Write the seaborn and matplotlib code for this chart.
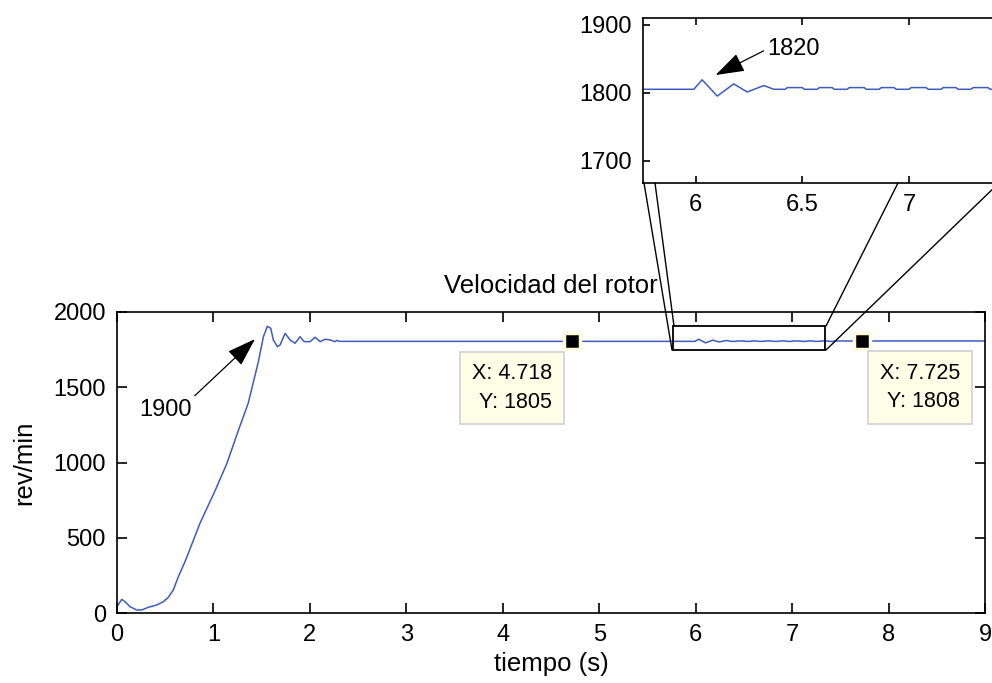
import matplotlib
matplotlib.use("Agg")
import matplotlib.pyplot as plt
from matplotlib.patches import Rectangle
from matplotlib.lines import Line2D
import seaborn as sns
import pandas as pd

# ---------------- data ----------------
tiempo = [0.0, 0.049, 0.083, 0.135, 0.204, 0.256, 0.325, 0.411, 0.48, 0.532, 0.584, 0.636,
          0.705, 0.74, 0.86, 1.02, 1.14, 1.26, 1.36, 1.466, 1.518, 1.559, 1.594, 1.621,
          1.663, 1.691, 1.743, 1.795, 1.846, 1.898, 1.94, 2.002, 2.054, 2.106, 2.158,
          2.21, 2.26, 2.28, 2.3, 5.992, 6.031, 6.102, 6.179, 6.242, 6.32, 6.367,
          6.42, 6.43, 6.50, 6.51, 6.57, 6.58, 6.64, 6.65, 6.71, 6.72, 6.79, 6.80,
          6.86, 6.87, 6.93, 6.94, 7.00, 7.01, 7.08, 7.09, 7.15, 7.16, 7.22, 7.23,
          7.29, 7.30, 7.37, 7.38, 7.43, 7.44, 9.0]
rpm = [42, 91, 75, 42, 20, 20, 38, 53, 75, 104, 153, 241,
       341, 397, 596, 817, 995, 1216, 1393, 1670, 1836, 1905, 1892, 1814,
       1770, 1781, 1858, 1814, 1792, 1836, 1803, 1803, 1832, 1803, 1819,
       1814, 1803, 1812, 1805, 1805, 1819, 1795, 1813, 1801, 1810.5, 1805,
       1805, 1807.5, 1807.5, 1805, 1805, 1807.5, 1807.5, 1805, 1805, 1807.5, 1807.5, 1805,
       1805, 1807.5, 1807.5, 1805, 1805, 1807.5, 1807.5, 1805, 1805, 1807.5, 1807.5, 1805,
       1805, 1807.5, 1807.5, 1805, 1805, 1807.5, 1807.5]

x_ticks = [0, 1, 2, 3, 4, 5, 6, 7, 8, 9]
y_ticks = [0, 500, 1000, 1500, 2000]
inset_x_ticks = [6, 6.5, 7]
inset_y_ticks = [1700, 1800, 1900]

tip_x = [4.718, 7.725]
tip_y = [1805, 1808]
tip_labels = ["X: 4.718\nY: 1805", "X: 7.725\nY: 1808"]

peak_label = "1900"
inset_peak_label = "1820"

title = "Velocidad del rotor"
xlabel = "tiempo (s)"
ylabel = "rev/min"

# ---------------- style ----------------
sns.set_style("ticks")
plt.rcParams["font.family"] = ["Liberation Sans", "DejaVu Sans"]
plt.rcParams["text.color"] = "black"
plt.rcParams["axes.labelcolor"] = "black"
plt.rcParams["xtick.color"] = "black"
plt.rcParams["ytick.color"] = "black"

W, H = 992, 683
fig = plt.figure(figsize=(W / 100, H / 100), dpi=100)

def fx(px):
    return px / W

def fy(py):
    return 1 - py / H

df = pd.DataFrame({"t": tiempo, "v": rpm})
line_color = "#3D5CC0"

# ---------------- main axes ----------------
ax = fig.add_axes([fx(117), fy(613), fx(985) - fx(117), fy(312) - fy(613)])
sns.lineplot(data=df, x="t", y="v", ax=ax, color=line_color, lw=1.1,
             estimator=None, sort=False)
ax.set_xlim(0, 9)
ax.set_ylim(0, 2000)
ax.set_xticks(x_ticks)
ax.set_yticks(y_ticks)
ax.tick_params(direction="in", length=7, width=1.2, labelsize=17, pad=8,
               top=True, right=True, colors="black")
for s in ax.spines.values():
    s.set_linewidth(1.2)
    s.set_color("black")
ax.set_title(title, fontsize=18.5, pad=14, color="black")
ax.set_xlabel(xlabel, fontsize=18.5, labelpad=4, color="black")
ax.set_ylabel(ylabel, fontsize=18.5, labelpad=12, color="black")

# zoom rectangle
ax.add_patch(Rectangle((5.77, 1748), 1.57, 159, fill=False, ec="black", lw=1.3, zorder=5))

# datatips
ax.plot(tip_x, tip_y, ls="none", marker="s", ms=12, mfc="black", mec="#FFFBDC", mew=2.5, zorder=6)
offsets = [(-20, -22, "right"), (18, -22, "left")]
for xv, yv, lab, (dx, dy, ha) in zip(tip_x, tip_y, tip_labels, offsets):
    ax.annotate(lab, xy=(xv, yv), xytext=(dx, dy), textcoords="offset pixels",
                ha=ha, va="top", fontsize=15.5, multialignment="right", linespacing=1.45,
                color="black",
                bbox=dict(boxstyle="square,pad=0.55", fc="#FFFFE8", ec="#CFCFCF", lw=1.2),
                zorder=7)

# peak annotation
ax.annotate(peak_label, xy=(1.431, 1820), xytext=(0.50, 1350), fontsize=17,
            ha="center", va="center", color="black",
            arrowprops=dict(arrowstyle="-|>,head_length=0.9,head_width=0.3",
                            mutation_scale=20, color="black", lw=0.9,
                            relpos=(1.0, 1.0), shrinkA=0, shrinkB=0))

# ---------------- inset axes ----------------
ax2 = fig.add_axes([fx(643), fy(183), (7.6 - 5.754) * 213.5 / W, fy(18) - fy(183)])
sns.lineplot(data=df, x="t", y="v", ax=ax2, color=line_color, lw=1.1,
             estimator=None, sort=False)
ax2.set_xlim(5.754, 7.6)
ax2.set_ylim(1667, 1910)
ax2.set_xticks(inset_x_ticks)
ax2.set_xticklabels(["6", "6.5", "7"])
ax2.set_yticks(inset_y_ticks)
ax2.tick_params(direction="in", length=5, width=1.2, labelsize=17, pad=8,
                top=True, right=True, colors="black")
for s in ax2.spines.values():
    s.set_linewidth(1.2)
    s.set_color("black")
ax2.set_xlabel("")
ax2.set_ylabel("")
ax2.annotate(inset_peak_label, xy=(6.094, 1826), xytext=(6.457, 1864), fontsize=17,
             ha="center", va="center", color="black",
             arrowprops=dict(arrowstyle="-|>,head_length=0.9,head_width=0.3",
                             mutation_scale=20, color="black", lw=0.9,
                             relpos=(0.0, 0.5), shrinkA=0, shrinkB=0))

# ---------------- connector lines (figure pixels) ----------------
connectors = [((644, 183), (672, 350)), ((655, 183), (674, 326)),
              ((898, 183), (826, 326)), ((826, 350), (1000, 182))]
for (x0, y0), (x1, y1) in connectors:
    fig.add_artist(Line2D([fx(x0), fx(x1)], [fy(y0), fy(y1)], transform=fig.transFigure,
                          color="black", lw=1.0, zorder=10))

fig.savefig("out.png", dpi=100)
